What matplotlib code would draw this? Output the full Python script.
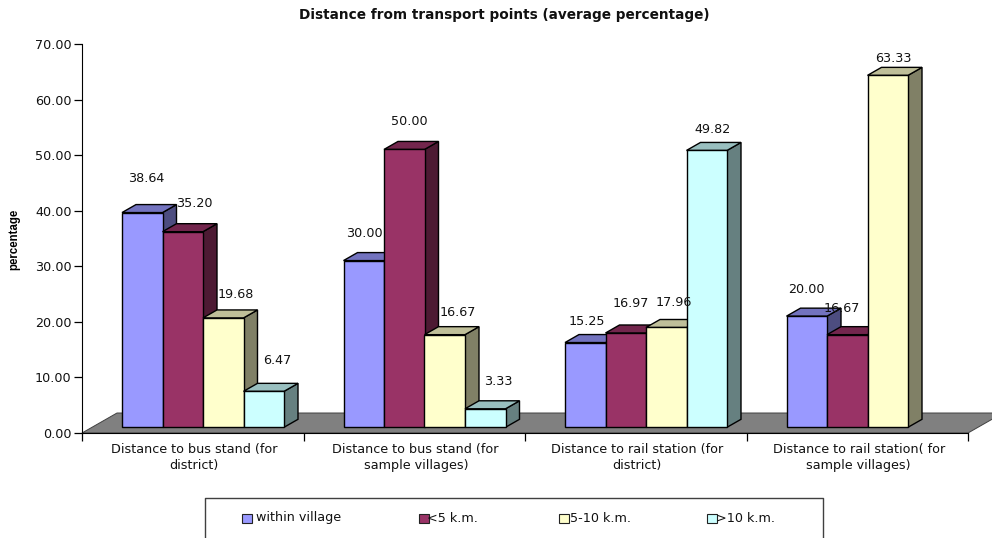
import matplotlib as mpl
mpl.use('Agg')
import matplotlib.pyplot as plt
from matplotlib.patches import Polygon, Rectangle
from matplotlib.transforms import Affine2D

plt.rcParams['font.family'] = ['DejaVu Sans']

categories = ["Distance to bus stand (for\ndistrict)",
              "Distance to bus stand (for\nsample villages)",
              "Distance to rail station (for\ndistrict)",
              "Distance to rail station( for\nsample villages)"]
series_names = ["within village", "<5 k.m.", "5-10 k.m.", ">10 k.m."]
within_village = [38.64, 30.00, 15.25, 20.00]
under_5 = [35.20, 50.00, 16.97, 16.67]
from_5_to_10 = [19.68, 16.67, 17.96, 63.33]
over_10 = [6.47, 3.33, 49.82, None]
y_ticks = [0, 10, 20, 30, 40, 50, 60, 70]

colors = ['#9999FF', '#993366', '#FFFFCC', '#CCFFFF']
# label offsets from bar top centre, pixels (the original labels sit all over the place)
label_dx = [[3.5, 12, 12.5, 13], [1, 5.5, 13, 13.5], [1.5, 5, 7.5, 6], [0, -5.5, 6, 0]]
label_dy = [[-33.8, -27.9, -23, -31], [-27, -28, -22, -27], [-21, -29, -25, -21], [-27, -26, -17, 0]]
legend_swatch_x = [242, 419, 559, 707]
legend_text_x = [256, 427, 570, 716]

W, H = 992, 538
fig = plt.figure(figsize=(W / 100, H / 100), dpi=100)
ax = fig.add_axes([82 / W, 1 - 433 / H, (968 - 82) / W, (433 - 44) / H])
ax.set_xlim(0, 4)
ax.set_ylim(0, 70)
ax.patch.set_visible(False)

px_x = 886 / 4.0
px_y = 389 / 70.0
depth_x = 14 / px_x
depth_y = 8 / px_y
base = 5.7 / px_y
bar_w = 40.5 / px_x
start = 40 / px_x


def shade(c, k):
    r, g, b = mpl.colors.to_rgb(c)
    return (r * k, g * k, b * k)


# floor
floor_dx = 35 / px_x
floor_dy = 20 / px_y
ax.add_patch(Polygon([(0, 0), (4, 0), (4 + floor_dx, floor_dy), (floor_dx, floor_dy)],
                     facecolor='#808080', edgecolor='#404040', lw=0.7,
                     clip_on=False, zorder=1))

all_series = [within_village, under_5, from_5_to_10, over_10]
z = 2
for c in range(4):
    for s, vals in enumerate(all_series):
        v = vals[c]
        if v is None:
            continue
        x0 = c + start + s * bar_w
        x1 = x0 + bar_w
        top = base + v
        ax.bar(x0, v, width=bar_w, bottom=base, align='edge', color=colors[s],
               edgecolor='black', linewidth=1.0, zorder=z + 0.2, clip_on=False)
        ax.add_patch(Polygon([(x1, base), (x1 + depth_x, base + depth_y),
                              (x1 + depth_x, top + depth_y), (x1, top)],
                             facecolor=shade(colors[s], 0.5), edgecolor='black', lw=1.0,
                             clip_on=False, zorder=z))
        ax.add_patch(Polygon([(x0, top), (x0 + depth_x, top + depth_y),
                              (x1 + depth_x, top + depth_y), (x1, top)],
                             facecolor=shade(colors[s], 0.75), edgecolor='black', lw=1.0,
                             clip_on=False, zorder=z))
        z += 1

for c in range(4):
    for s, vals in enumerate(all_series):
        v = vals[c]
        if v is None:
            continue
        xc = c + start + (s + 0.5) * bar_w
        ax.annotate("%.2f" % v, xy=(xc, base + v),
                    xytext=(label_dx[c][s] * 0.72, -label_dy[c][s] * 0.72),
                    textcoords='offset points', ha='center', va='center',
                    fontsize=9.2, color='#111111', zorder=100, annotation_clip=False)

for sp in ['top', 'right']:
    ax.spines[sp].set_visible(False)
ax.spines['left'].set_bounds(0, 70)
ax.spines['left'].set_zorder(50)
ax.spines['bottom'].set_zorder(50)
ax.set_yticks(y_ticks)
ax.set_yticklabels(["%.2f" % t for t in y_ticks], fontsize=9.2, color='#111111')
ax.set_xticks(range(5))
ax.set_xticklabels([])
ax.tick_params(axis='both', length=5.5, width=0.9, pad=2)
for i, label in enumerate(categories):
    ax.text(i + 0.5 + 1.5 / px_x, -10.5 / px_y, label, ha='center', va='top', fontsize=9.2,
            linespacing=1.2, color='#111111')
ax.set_ylabel("percentage", fontsize=8.3, fontweight='bold',
              family=['Liberation Sans', 'DejaVu Sans'])
ax.yaxis.set_label_coords((20 - 82) / 886.0, (433 - 239) / 389.0)

fig.text(504 / W, 1 - 15 / H, "Distance from transport points (average percentage)",
         ha='center', va='center', fontsize=9.8, fontweight='bold', color='#111111')

# legend box, open at the bottom because the image cuts it off
to_px = Affine2D().scale(1.0 / W, -1.0 / H).translate(0, 1) + fig.transFigure
fig.add_artist(plt.Line2D([205, 205, 823, 823], [538, 498, 498, 538], transform=to_px,
                          color='#404040', lw=1.0))
for i, name in enumerate(series_names):
    fig.add_artist(Rectangle((legend_swatch_x[i], 513.5), 10, 9, transform=to_px,
                             facecolor=colors[i], edgecolor='#222222', lw=0.8))
    fig.text(legend_text_x[i] / W, 1 - 518 / H, name, ha='left', va='center',
             fontsize=9.2, color='#111111')

fig.savefig('out.png', dpi=100)
